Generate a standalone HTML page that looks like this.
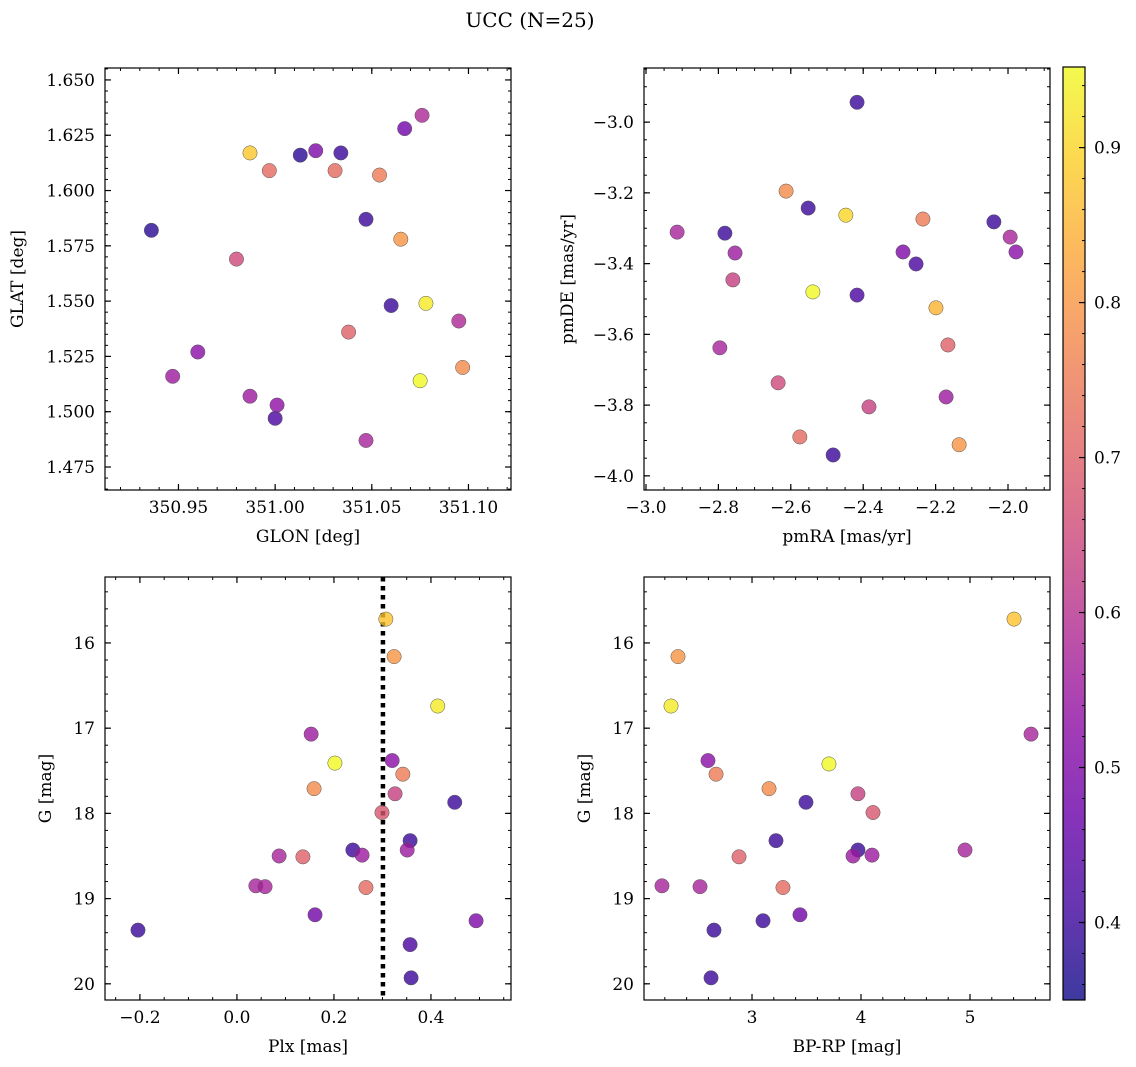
<!DOCTYPE html>
<html><head><meta charset="utf-8"><style>
html,body{margin:0;padding:0;background:#fff}
svg{display:block;font-family:"DejaVu Serif","Liberation Serif",serif}
</style></head><body>
<svg id="fig" width="1136" height="1067" viewBox="0 0 1136 1067" xmlns="http://www.w3.org/2000/svg">
<defs><linearGradient id="cbgrad" x1="0" y1="1" x2="0" y2="0"></linearGradient></defs>
<text x="530" y="27" font-size="20" text-anchor="middle">UCC (N=25)</text>
</svg>
<script>
// ---- data ----
const p1X=[350.936,350.987,350.997,351.013,351.021,351.034,351.031,351.054,351.067,351.076,351.047,351.065,350.980,351.060,351.078,351.038,351.095,350.960,350.947,351.097,351.075,350.987,351.001,351.000,351.047];
const p1Y=[1.582,1.617,1.609,1.616,1.618,1.617,1.609,1.607,1.628,1.634,1.587,1.578,1.569,1.548,1.549,1.536,1.541,1.527,1.516,1.520,1.514,1.507,1.503,1.497,1.487];
const p1C=[0.38,0.88,0.72,0.38,0.50,0.40,0.72,0.75,0.48,0.58,0.40,0.80,0.65,0.40,0.93,0.70,0.58,0.52,0.55,0.78,0.95,0.55,0.53,0.42,0.57];
const p2X=[-2.417,-2.914,-2.782,-2.754,-2.760,-2.796,-2.613,-2.552,-2.448,-2.235,-2.539,-2.417,-2.290,-2.254,-2.199,-2.039,-1.994,-1.978,-2.166,-2.171,-2.135,-2.635,-2.575,-2.384,-2.483];
const p2Y=[-2.944,-3.311,-3.314,-3.370,-3.446,-3.638,-3.195,-3.243,-3.263,-3.274,-3.480,-3.489,-3.367,-3.401,-3.525,-3.282,-3.325,-3.367,-3.630,-3.777,-3.912,-3.737,-3.890,-3.805,-3.941];
const p2C=[0.40,0.57,0.40,0.55,0.63,0.57,0.78,0.40,0.90,0.75,0.95,0.42,0.50,0.42,0.85,0.40,0.57,0.52,0.70,0.55,0.80,0.65,0.72,0.63,0.40];
const p3X=[0.307,0.324,0.414,0.153,0.202,0.320,0.342,0.159,0.326,0.449,0.299,0.357,0.087,0.136,0.239,0.258,0.351,0.039,0.058,0.266,0.161,0.493,-0.204,0.357,0.359];
const p3Y=[15.72,16.16,16.74,17.07,17.41,17.38,17.54,17.71,17.77,17.87,17.99,18.32,18.50,18.51,18.43,18.49,18.43,18.85,18.86,18.87,19.19,19.26,19.37,19.54,19.93];
const p3C=[0.87,0.80,0.93,0.55,0.95,0.52,0.75,0.78,0.63,0.40,0.68,0.40,0.57,0.70,0.40,0.55,0.55,0.57,0.57,0.72,0.48,0.50,0.40,0.42,0.40];
const p4X=[5.404,2.321,2.257,5.560,3.706,2.596,2.670,3.156,3.972,3.495,4.110,3.220,3.972,2.881,3.927,4.101,4.954,2.174,2.523,3.284,3.440,3.101,2.651,2.624];
const p4Y=[15.72,16.16,16.74,17.07,17.42,17.38,17.54,17.71,17.77,17.87,17.99,18.32,18.43,18.51,18.50,18.49,18.43,18.85,18.86,18.87,19.19,19.26,19.37,19.93];
const p4C=[0.87,0.80,0.93,0.57,0.95,0.52,0.75,0.78,0.63,0.40,0.68,0.40,0.40,0.70,0.55,0.55,0.57,0.57,0.57,0.72,0.48,0.40,0.40,0.40];
const plxLine=0.301;
const cbTicks=[0.4,0.5,0.6,0.7,0.8,0.9];
const vmin=0.35, vmax=0.952;

const NS="http://www.w3.org/2000/svg";
const svg=document.getElementById('fig');
function mk(tag,attrs,parent){const e=document.createElementNS(NS,tag);for(const k in attrs)e.setAttribute(k,attrs[k]);(parent||svg).appendChild(e);return e;}
const stops=[[0,13,8,135],[0.1,65,4,157],[0.2,106,0,168],[0.3,143,13,164],[0.4,177,42,144],[0.5,204,71,120],[0.6,225,100,98],[0.7,242,132,75],[0.8,252,166,54],[0.9,252,206,37],[1,240,249,33]];
function plasma(t){t=Math.max(0,Math.min(1,t));for(let i=1;i<stops.length;i++){if(t<=stops[i][0]){const a=stops[i-1],b=stops[i],f=(t-a[0])/(b[0]-a[0]);return `rgb(${Math.round(a[1]+f*(b[1]-a[1]))},${Math.round(a[2]+f*(b[2]-a[2]))},${Math.round(a[3]+f*(b[3]-a[3]))})`;}}return 'rgb(240,249,33)';}
function fmt(v,d){const s=v.toFixed(d);return s.startsWith('-')?'\u2212'+s.slice(1):s;}

function panel(cfg){
  const g=mk('g',{});
  
  
  const {L,T,R,B}=cfg;
  const sx=v=>L+(v-cfg.x0)/(cfg.x1-cfg.x0)*(R-L);
  const sy=v=>cfg.yinv? T+(v-cfg.y0)/(cfg.y1-cfg.y0)*(B-T) : B-(v-cfg.y0)/(cfg.y1-cfg.y0)*(B-T);
  const eps=1e-9;
  for(let v=Math.ceil(cfg.x0/cfg.xmin-eps)*cfg.xmin; v<=cfg.x1+eps; v+=cfg.xmin){const x=sx(v);mk('line',{x1:x,x2:x,y1:B,y2:B-3,stroke:'#000','stroke-width':1},g);mk('line',{x1:x,x2:x,y1:T,y2:T+3,stroke:'#000','stroke-width':1},g);}
  for(let v=Math.ceil(cfg.y0/cfg.ymin-eps)*cfg.ymin; v<=cfg.y1+eps; v+=cfg.ymin){const y=sy(v);mk('line',{x1:L,x2:L+3,y1:y,y2:y,stroke:'#000','stroke-width':1},g);mk('line',{x1:R,x2:R-3,y1:y,y2:y,stroke:'#000','stroke-width':1},g);}
  for(let v=Math.ceil(cfg.x0/cfg.xmaj-eps)*cfg.xmaj; v<=cfg.x1+eps; v+=cfg.xmaj){const x=sx(v);mk('line',{x1:x,x2:x,y1:B,y2:B-6,stroke:'#000','stroke-width':1.2},g);mk('line',{x1:x,x2:x,y1:T,y2:T+6,stroke:'#000','stroke-width':1.2},g);
    const t=mk('text',{x:x,y:B+23,'font-size':17,'text-anchor':'middle'},g);t.textContent=fmt(v,cfg.xd);}
  for(let v=Math.ceil(cfg.y0/cfg.ymaj-eps)*cfg.ymaj; v<=cfg.y1+eps; v+=cfg.ymaj){const y=sy(v);mk('line',{x1:L,x2:L+6,y1:y,y2:y,stroke:'#000','stroke-width':1.2},g);mk('line',{x1:R,x2:R-6,y1:y,y2:y,stroke:'#000','stroke-width':1.2},g);
    const t=mk('text',{x:L-10,y:y+6,'font-size':17,'text-anchor':'end'},g);t.textContent=fmt(v,cfg.yd);}
  if(cfg.vline!==undefined){const x=sx(cfg.vline);const ln=mk('line',{x1:x,x2:x,y1:T,y2:B,stroke:'#000','stroke-width':4.5,'stroke-dasharray':'4.5,4.5'},g);}
  const idx=cfg.xs.map((_,i)=>i).sort((a,b)=>cfg.cs[a]-cfg.cs[b]);
  for(const i of idx){const c=mk('circle',{cx:sx(cfg.xs[i]),cy:sy(cfg.ys[i]),r:7.2,fill:plasma((cfg.cs[i]-vmin)/(vmax-vmin)),'fill-opacity':0.8,stroke:'#555','stroke-width':0.5},g);
    
    }
  const fr=mk('rect',{x:L,y:T,width:R-L,height:B-T,fill:'none',stroke:'#000','stroke-width':1.2},g);
  
  const xl=mk('text',{x:(L+R)/2,y:B+52,'font-size':17,'text-anchor':'middle'},g);xl.textContent=cfg.xlabel;
  
  const yl=mk('text',{x:0,y:0,'font-size':17,'text-anchor':'middle',transform:`translate(${cfg.ylx},${(T+B)/2}) rotate(-90)`},g);yl.textContent=cfg.ylabel;
  
}
panel({name:'glon-glat-panel',L:105,T:68,R:511,B:490,x0:350.912,x1:351.122,y0:1.4646,y1:1.6554,xmaj:0.05,xmin:0.01,ymaj:0.025,ymin:0.005,xd:2,yd:3,xs:p1X,ys:p1Y,cs:p1C,xlabel:'GLON [deg]',ylabel:'GLAT [deg]',ylx:23});
panel({name:'pm-panel',L:644,T:68,R:1050,B:490,x0:-3.0055,x1:-1.884,y0:-4.040,y1:-2.847,xmaj:0.2,xmin:0.05,ymaj:0.2,ymin:0.05,xd:1,yd:1,xs:p2X,ys:p2Y,cs:p2C,xlabel:'pmRA [mas/yr]',ylabel:'pmDE [mas/yr]',ylx:573});
panel({name:'plx-g-panel',L:105,T:577,R:511,B:1000,x0:-0.272,x1:0.565,y0:15.226,y1:20.19,yinv:true,xmaj:0.2,xmin:0.05,ymaj:1,ymin:0.2,xd:1,yd:0,xs:p3X,ys:p3Y,cs:p3C,xlabel:'Plx [mas]',ylabel:'G [mag]',ylx:51,vline:plxLine});
panel({name:'color-g-panel',L:644,T:577,R:1050,B:1000,x0:2.009,x1:5.734,y0:15.226,y1:20.19,yinv:true,xmaj:1,xmin:0.2,ymaj:1,ymin:0.2,xd:0,yd:0,xs:p4X,ys:p4Y,cs:p4C,xlabel:'BP-RP [mag]',ylabel:'G [mag]',ylx:590});
const grad=document.getElementById('cbgrad');
for(let i=0;i<=10;i++){mk('stop',{offset:i/10,'stop-color':plasma(i/10)},grad);}
const cb=mk('g',{});


const cbL=1063,cbR=1085,cbT=67,cbB=1000;
mk('rect',{x:cbL,y:cbT,width:cbR-cbL,height:cbB-cbT,fill:'url(#cbgrad)','fill-opacity':0.8},cb);
mk('rect',{x:cbL,y:cbT,width:cbR-cbL,height:cbB-cbT,fill:'none',stroke:'#000','stroke-width':1.2},cb);
const cy=v=>cbB-(v-vmin)/(vmax-vmin)*(cbB-cbT);
for(let v=0.36;v<=vmax+1e-9;v+=0.02){mk('line',{x1:cbR,x2:cbR-3,y1:cy(v),y2:cy(v),stroke:'#000','stroke-width':1},cb);}
for(const v of cbTicks){const y=cy(v);mk('line',{x1:cbR,x2:cbR-6,y1:y,y2:y,stroke:'#000','stroke-width':1.2},cb);
  const t=mk('text',{x:cbR+9,y:y+6,'font-size':17},cb);t.textContent=v.toFixed(1);
  
  }
</script>
</body></html>
